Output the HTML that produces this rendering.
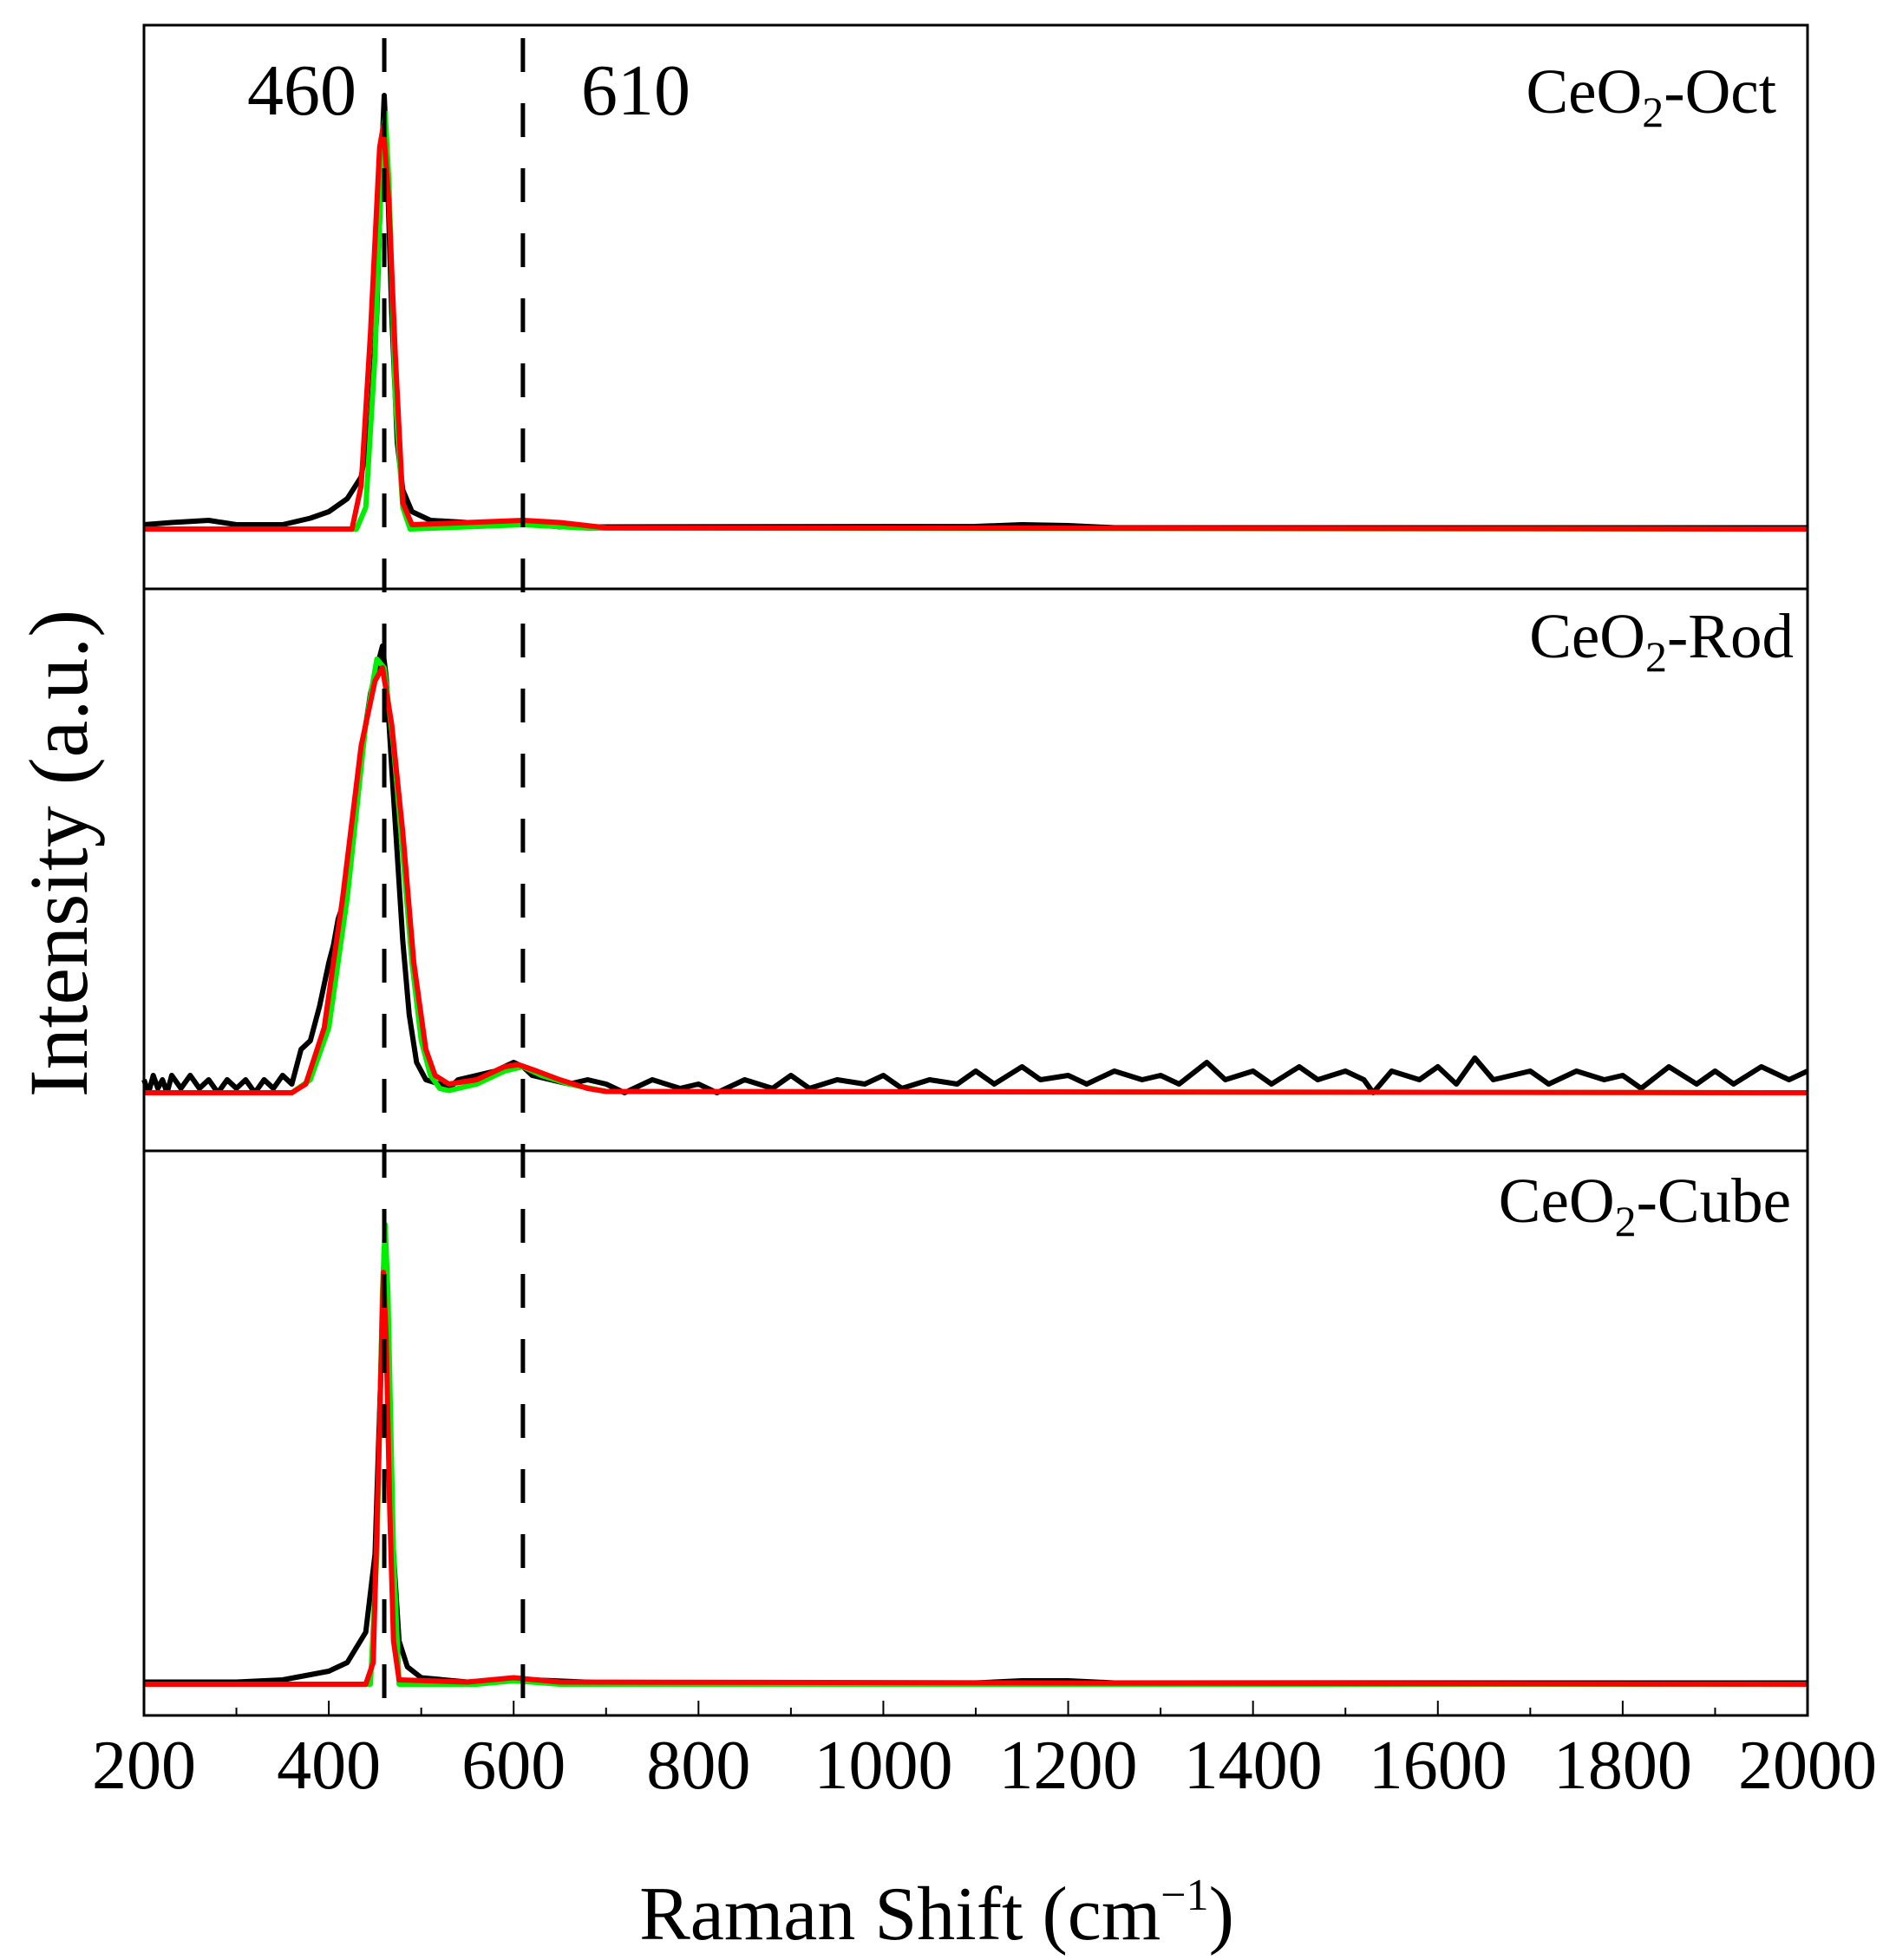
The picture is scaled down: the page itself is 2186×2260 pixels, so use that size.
<!DOCTYPE html>
<html><head><meta charset="utf-8"><style>
html,body{margin:0;padding:0;background:#fff;}
svg{display:block;font-family:"Liberation Serif",serif;}
</style></head><body>
<svg id="chart" width="2186" height="2260" viewBox="0 0 2186 2260">
<g id="plot"></g>
<text x="1080" y="2236" font-size="88" text-anchor="middle">Raman Shift (cm<tspan font-size="52" dy="-34">−1</tspan><tspan dy="34">)</tspan></text>
<text transform="translate(100,984) rotate(-90)" font-size="96" text-anchor="middle">Intensity (a.u.)</text>
</svg>
<script>
const xTicks = [200,400,600,800,1000,1200,1400,1600,1800,2000];
const refLines = [460,610];
const panelNames = ["Oct","Rod","Cube"];
const octBlackX = [200,230,270,300,350,380,400,420,435,445,452,457,460,463,468,474,480,490,510,550,600,650,700,1100,1150,1200,1250,2000];
const octBlackY = [1,1.5,2,1,1,2.5,4,7,12,25,50,85,100,85,50,20,9,4,2,1.5,1.5,0.5,0.5,0.6,1,0.8,0.3,0.3];
const octGreenX = [200,430,440,450,458,461,465,472,480,488,550,610,680,2000];
const octGreenY = [0,0,5,40,90,96,80,30,5,0,0.5,1,0.2,0];
const octRedX = [200,425,435,445,455,459,465,472,480,490,550,610,650,700,2000];
const octRedY = [0,0,10,45,88,93,75,40,6,1,1.5,2,1.5,0.3,0];
const rodBlackX = [200,205,210,215,220,225,230,240,250,260,270,280,290,300,310,320,330,340,350,360,365,370,380,390,400,405,410,418,425,435,445,452,458,462,468,474,480,487,495,505,520,530,540,560,580,600,610,620,640,660,680,700,720,750,780,800,820,850,880,900,920,950,980,1000,1020,1050,1080,1100,1120,1150,1170,1200,1220,1250,1280,1300,1320,1350,1370,1400,1420,1450,1470,1500,1520,1530,1550,1580,1600,1620,1640,1660,1700,1720,1750,1780,1800,1820,1850,1880,1900,1920,1950,1980,2000];
const rodBlackY = [3,0,4,1,3,0,4,1,4,1,3,0,3,1,3,0,3,1,4,2,6,10,12,20,30,34,40,45,58,78,92,98,103,96,75,55,35,18,7,3,2,1,3,4,5,7,6,4,3,2,3,2,0,3,1,2,0,3,1,4,1,3,2,4,1,3,2,5,2,6,3,4,2,5,3,4,2,7,3,5,2,6,3,5,3,0,5,3,6,2,8,3,5,2,5,3,4,1,6,2,5,2,6,3,5];
const rodGreenX = [200,360,380,400,420,440,452,460,470,480,490,500,510,520,530,560,590,610,630,660,700,2000];
const rodGreenY = [0,0,3,15,45,85,100,98,80,55,30,12,4,1,0.5,2,5,6,4,2,0.3,0];
const rodRedX = [200,360,375,395,415,435,450,458,468,480,492,505,515,530,560,590,605,625,650,680,700,2000];
const rodRedY = [0,0,2,15,45,80,95,98,85,60,30,10,4,2,3,6,6.5,5,3,1,0.3,0];
const cubeBlackX = [200,300,350,400,420,440,450,456,460,464,470,476,485,500,550,600,620,700,1100,1150,1200,1250,2000];
const cubeBlackY = [0.5,0.5,1,3,5,12,30,70,100,70,30,10,4,1.5,0.5,1,1,0.3,0.3,0.8,0.8,0.3,0.3];
const cubeGreenX = [200,445,452,458,461,464,470,476,560,600,650,2000];
const cubeGreenY = [0,0,30,90,106,90,30,0,0,0.8,0,0];
const cubeRedX = [200,440,448,455,459,462,466,470,476,550,600,650,2000];
const cubeRedY = [0,0,5,60,95,80,40,10,1,0.5,1.5,0.5,0];

const NS="http://www.w3.org/2000/svg";
const g=document.getElementById('plot');
const L=166,R=2084,T=29,B=1978;
const panelTops=[29,679,1327], panelBots=[679,1327,1978], baseYs=[610,1260,1942];
const sx=x=>L+(x-200)/(1800)*(R-L);
function mk(tag,attrs){const e=document.createElementNS(NS,tag);for(const k in attrs)e.setAttribute(k,attrs[k]);g.appendChild(e);return e;}
function series(xs,ys,p,color,w,name){
  const sy=v=>baseYs[p]-v*5;
  const pts=xs.map((x,i)=>sx(x).toFixed(1)+','+sy(ys[i]).toFixed(1)).join(' ');
  const e=mk('polyline',{points:pts,fill:'none',stroke:color,'stroke-width':w,'stroke-linejoin':'round'});
  
  
}
const data=[[octBlackX,octBlackY,octGreenX,octGreenY,octRedX,octRedY],[rodBlackX,rodBlackY,rodGreenX,rodGreenY,rodRedX,rodRedY],[cubeBlackX,cubeBlackY,cubeGreenX,cubeGreenY,cubeRedX,cubeRedY]];
data.forEach((d,p)=>{
  series(d[0],d[1],p,'#000',6,panelNames[p].toLowerCase()+'-measured-line');
  series(d[2],d[3],p,'#00ee00',6,panelNames[p].toLowerCase()+'-fit-component-line');
  series(d[4],d[5],p,'#ff0000',6,panelNames[p].toLowerCase()+'-fit-sum-line');
});
refLines.forEach(v=>{
  const e=mk('line',{x1:sx(v),x2:sx(v),y1:44,y2:B,stroke:'#000','stroke-width':5,'stroke-dasharray':'39 36'});
  
  
});
[[348,'460'],[733,'610']].forEach(a=>{
  const t=mk('text',{x:a[0],y:132,'font-size':84,'text-anchor':'middle'});t.textContent=a[1];
  
  
});
const lblPos=[[2048,130],[2068,758],[2065,1409]];
panelNames.forEach((n,p)=>{
  const t=mk('text',{x:lblPos[p][0],y:lblPos[p][1],'font-size':73,'text-anchor':'end'});
  t.innerHTML='CeO<tspan font-size="50" dy="16">2</tspan><tspan dy="-16">-'+n+'</tspan>';
  
  
});
for(let p=0;p<3;p++){
  const r=mk('rect',{x:L,y:panelTops[p],width:R-L,height:panelBots[p]-panelTops[p],fill:'none',stroke:'#000','stroke-width':3});
  
  
}
for(let v=200;v<=2000;v+=100){
  const major=xTicks.includes(v);
  const t=mk('line',{x1:sx(v),x2:sx(v),y1:B,y2:B-(major?17:9),stroke:'#000','stroke-width':2});
  
  
}
xTicks.forEach(v=>{
  const t=mk('text',{x:sx(v),y:2062,'font-size':80,'text-anchor':'middle'});t.textContent=v;
  
  
});
</script>
</body></html>
